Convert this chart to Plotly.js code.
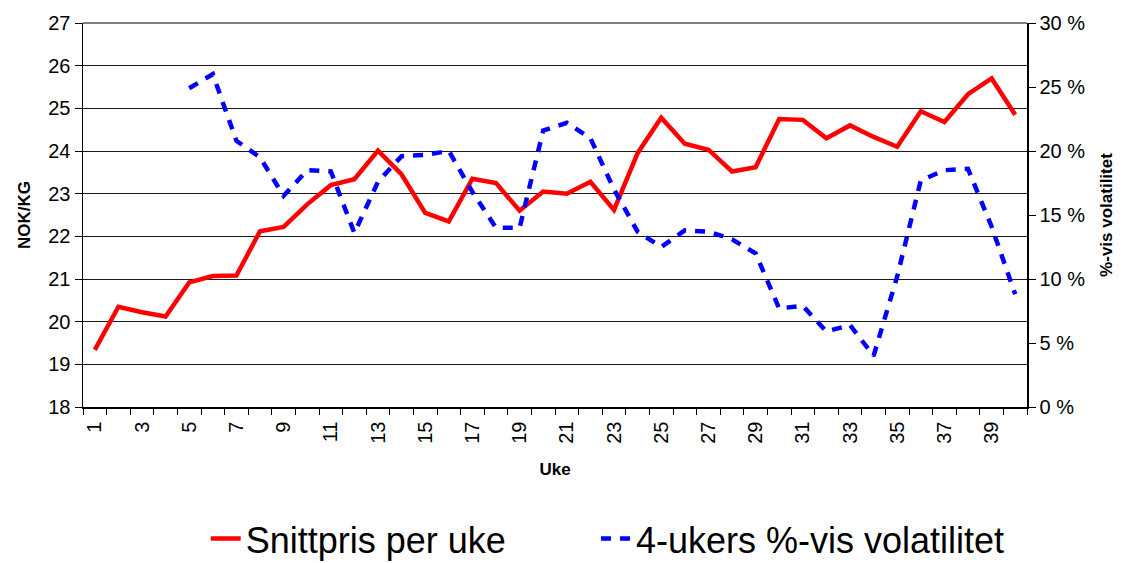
<!DOCTYPE html>
<html>
<head>
<meta charset="utf-8">
<script src="https://cdn.plot.ly/plotly-3.0.1.min.js"></script>
<style>html,body{margin:0;padding:0;background:#fff;}#chart{width:1127px;height:563px;}</style>
</head>
<body>
<div id="chart"></div>
<script>
const weeks = Array.from({length: 40}, (_, i) => i + 1);
const snittpris = [19.34, 20.35, 20.22, 20.12, 20.92, 21.07, 21.08, 22.12, 22.22, 22.75,
  23.2, 23.34, 24.01, 23.45, 22.55, 22.35, 23.35, 23.25, 22.6, 23.05,
  23.0, 23.28, 22.62, 23.95, 24.78, 24.17, 24.03, 23.52, 23.62, 24.75,
  24.73, 24.3, 24.6, 24.33, 24.1, 24.93, 24.68, 25.33, 25.7, 24.85];
const volatilitet = [null, null, null, null, 24.9, 26.0, 20.8, 19.5, 16.5, 18.5,
  18.4, 13.6, 17.6, 19.6, 19.7, 20.0, 16.8, 14.0, 14.0, 21.6,
  22.2, 21.0, 17.0, 13.7, 12.5, 13.8, 13.7, 13.1, 12.0, 7.7,
  7.9, 5.9, 6.4, 4.0, 10.2, 17.7, 18.5, 18.6, 14.1, 8.8];
const xTickVals = [1,3,5,7,9,11,13,15,17,19,21,23,25,27,29,31,33,35,37,39];
const xTickText = xTickVals.map(String);
const seriesNames = ['Snittpris per uke', '4-ukers %-vis volatilitet'];

const font = 'Liberation Sans, Arial, sans-serif';

const traces = [
  {x: weeks, y: snittpris, name: seriesNames[0], type: 'scatter', mode: 'lines',
   line: {color: '#ff0000', width: 4.5}, yaxis: 'y', legend: 'legend'},
  {x: weeks, y: volatilitet, name: seriesNames[1], type: 'scatter', mode: 'lines',
   line: {color: '#0000ff', width: 4.5, dash: '10px,9px'}, yaxis: 'y2', connectgaps: false,
   legend: 'legend2'}
];

const legendCommon = {orientation: 'h', xanchor: 'left', y: -0.343, yanchor: 'middle',
  font: {size: 36, family: font}, itemwidth: 30, bgcolor: 'rgba(0,0,0,0)'};

const layout = {
  width: 1127, height: 563,
  margin: {l: 83, r: 100, t: 23, b: 156, autoexpand: false},
  paper_bgcolor: '#fff', plot_bgcolor: '#fff',
  font: {family: font, color: '#000', size: 20},
  showlegend: true,
  legend: Object.assign({}, legendCommon, {x: 0.13}),
  legend2: Object.assign({}, legendCommon, {x: 0.5434}),
  xaxis: {
    range: [0.5, 40.5], tickmode: 'array', tickvals: xTickVals, ticktext: xTickText,
    tickangle: -90, ticks: '', showgrid: false, zeroline: false,
    showline: true, linecolor: '#000', linewidth: 1.5,
    tickfont: {size: 20, family: font}, ticklabelstandoff: 5,
    minor: {ticks: 'outside', tick0: 0.5, dtick: 1, ticklen: 6, tickcolor: '#000', showgrid: false},
    title: {text: '<b>Uke</b>', font: {size: 17, family: font}, standoff: 20}
  },
  yaxis: {
    range: [18, 27], dtick: 1, tick0: 18, ticks: 'outside', ticklen: 7, tickcolor: '#000',
    showline: true, linecolor: '#000', linewidth: 1.5,
    showgrid: true, gridcolor: '#1a1a1a', gridwidth: 1, zeroline: false,
    tickfont: {size: 20, family: font},
    title: {text: '<b>NOK/KG</b>', font: {size: 17, family: font}, standoff: 13}
  },
  yaxis2: {
    range: [0, 30], dtick: 5, tick0: 0, ticksuffix: ' %', overlaying: 'y', side: 'right',
    ticks: 'outside', ticklen: 7, tickcolor: '#000',
    showline: true, linecolor: '#000', linewidth: 1.5, showgrid: false, zeroline: false,
    tickfont: {size: 20, family: font},
    title: {text: '<b>%-vis volatilitet</b>', font: {size: 17, family: font}, standoff: 16}
  },
  shapes: [
    {type: 'line', xref: 'paper', yref: 'paper', x0: 0, x1: 1, y0: 1, y1: 1,
     line: {color: '#808080', width: 2}}
  ]
};

Plotly.newPlot('chart', traces, layout, {displayModeBar: false, staticPlot: true});
</script>
</body>
</html>
